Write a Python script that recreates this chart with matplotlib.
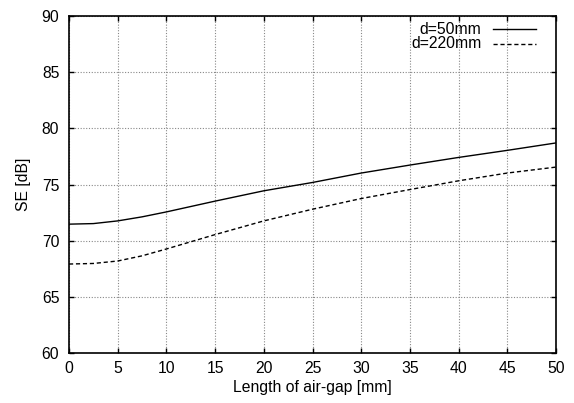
import matplotlib
matplotlib.use("Agg")
import matplotlib.pyplot as plt

plt.rcParams['font.family'] = ['Liberation Sans', 'DejaVu Sans']

gap_mm = [0, 2.5, 5, 7.5, 10, 15, 20, 25, 30, 35, 40, 45, 50]
se_d50 = [71.47, 71.52, 71.76, 72.12, 72.56, 73.52, 74.44, 75.18, 76.02, 76.73, 77.41, 78.04, 78.70]
se_d220 = [67.92, 67.97, 68.19, 68.65, 69.26, 70.54, 71.76, 72.80, 73.75, 74.55, 75.33, 76.02, 76.55]
labels = ['d=50mm', 'd=220mm']
xticks = [0, 5, 10, 15, 20, 25, 30, 35, 40, 45, 50]
yticks = [60, 65, 70, 75, 80, 85, 90]

FS = 11.3

fig = plt.figure(figsize=(5.74, 4.03), dpi=100)
fig.subplots_adjust(left=69/574, right=556/574, bottom=1-353/403, top=1-16/403)
ax = fig.add_subplot(111)

ax.plot(gap_mm, se_d50, color='black', lw=1.0, ls='-')
ax.plot(gap_mm, se_d220, color='black', lw=1.0, ls=(0, (3, 2)))

ax.set_xlim(0, 50)
ax.set_ylim(60, 90)
ax.set_xticks(xticks)
ax.set_yticks(yticks)
ax.grid(True, color='#888888', ls=(0, (1, 1.5)), lw=0.8)
ax.tick_params(direction='in', top=True, right=True, length=3.4, width=1,
               labelsize=FS, colors='black')
ax.tick_params(axis='x', pad=6)
ax.tick_params(axis='y', pad=7)
for s in ax.spines.values():
    s.set_linewidth(1.2)

ax.set_xlabel('Length of air-gap [mm]', fontsize=FS, labelpad=2.5)
ax.set_ylabel('SE [dB]', fontsize=FS, labelpad=7.5)

# legend (gnuplot style: right-justified text, sample to the right)
styles = ['-', (0, (3, 2))]
rows = [0.960, 0.918]
for lab, st, yy in zip(labels, styles, rows):
    ax.text(0.847, yy, lab, transform=ax.transAxes, ha='right', va='center', fontsize=FS)
    ax.plot([0.871, 0.959], [yy, yy], transform=ax.transAxes, color='black', lw=1.0, ls=st)

fig.savefig('out.png', dpi=100)
